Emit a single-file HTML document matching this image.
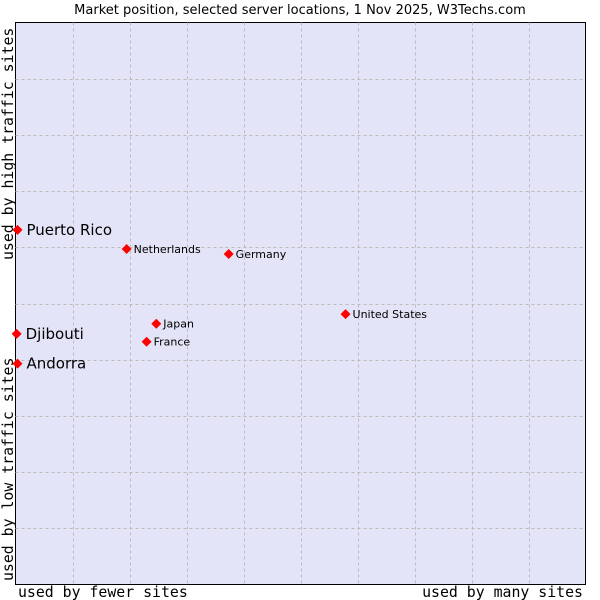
<!DOCTYPE html>
<html><head><meta charset="utf-8"><style>
body{margin:0;background:#fff;}
svg{display:block;font-family:"DejaVu Sans","Liberation Sans",sans-serif;}
</style></head><body>
<svg id="chart" width="600" height="600">
<text x="300" y="14" text-anchor="middle" font-size="13" fill="#000">Market position, selected server locations, 1 Nov 2025, W3Techs.com</text>
<rect x="15.5" y="22.5" width="570" height="562" fill="#e4e4f8" stroke="#000" stroke-width="1"/>
<g id="grid"></g>
<g id="points"></g>
<text x="18" y="597" font-family="DejaVu Sans Mono,Liberation Mono,monospace" font-size="14.85">used by fewer sites</text>
<text x="583" y="597" text-anchor="end" font-family="DejaVu Sans Mono,Liberation Mono,monospace" font-size="14.85">used by many sites</text>
<text transform="translate(13,581) rotate(-90)" font-family="DejaVu Sans Mono,Liberation Mono,monospace" font-size="14.85">used by low traffic sites</text>
<text transform="translate(13,260) rotate(-90)" font-family="DejaVu Sans Mono,Liberation Mono,monospace" font-size="14.85">used by high traffic sites</text>
</svg>
<script>
const names=["Puerto Rico","Djibouti","Andorra","Netherlands","Germany","United States","Japan","France"];
const xs=[0.35,0.2,0.35,19.5,37.4,57.9,24.7,23.0];
const ys=[63.1,44.6,39.3,59.7,58.8,48.1,46.4,43.2];
const big=[true,true,true,false,false,false,false,false];
const X0=15.5,X1=585.5,Y0=584.5,Y1=22.5;
const sx=v=>X0+(X1-X0)*v/100, sy=v=>Y0-(Y0-Y1)*v/100;
const NS="http://www.w3.org/2000/svg";
const g=document.getElementById('grid'), p=document.getElementById('points');
for(let i=1;i<10;i++){
  const lv=document.createElementNS(NS,'line');
  const x=Math.round(sx(i*10))+0.5;
  lv.setAttribute('x1',x);lv.setAttribute('x2',x);lv.setAttribute('y1',Y1);lv.setAttribute('y2',Y0);
  lv.setAttribute('stroke','#bbb');lv.setAttribute('stroke-dasharray','3,3');
  
  
  g.appendChild(lv);
  const lh=document.createElementNS(NS,'line');
  const y=Math.round(sy(i*10))+0.5;
  lh.setAttribute('x1',X0);lh.setAttribute('x2',X1);lh.setAttribute('y1',y);lh.setAttribute('y2',y);
  lh.setAttribute('stroke','#bbb');lh.setAttribute('stroke-dasharray','3,3');
  
  
  g.appendChild(lh);
}
names.forEach((n,i)=>{
  const cx=sx(xs[i]), cy=sy(ys[i]);
  const d=document.createElementNS(NS,'path');
  d.setAttribute('d',`M${cx} ${cy-5}L${cx+5} ${cy}L${cx} ${cy+5}L${cx-5} ${cy}Z`);
  d.setAttribute('fill','#f00');
  
  
  p.appendChild(d);
  const t=document.createElementNS(NS,'text');
  t.setAttribute('x',cx+(big[i]?9:7));t.setAttribute('y',cy+(big[i]?5:4));
  t.setAttribute('font-size',big[i]?15:11);
  t.textContent=n;
  
  
  p.appendChild(t);
});
</script>
</body></html>
